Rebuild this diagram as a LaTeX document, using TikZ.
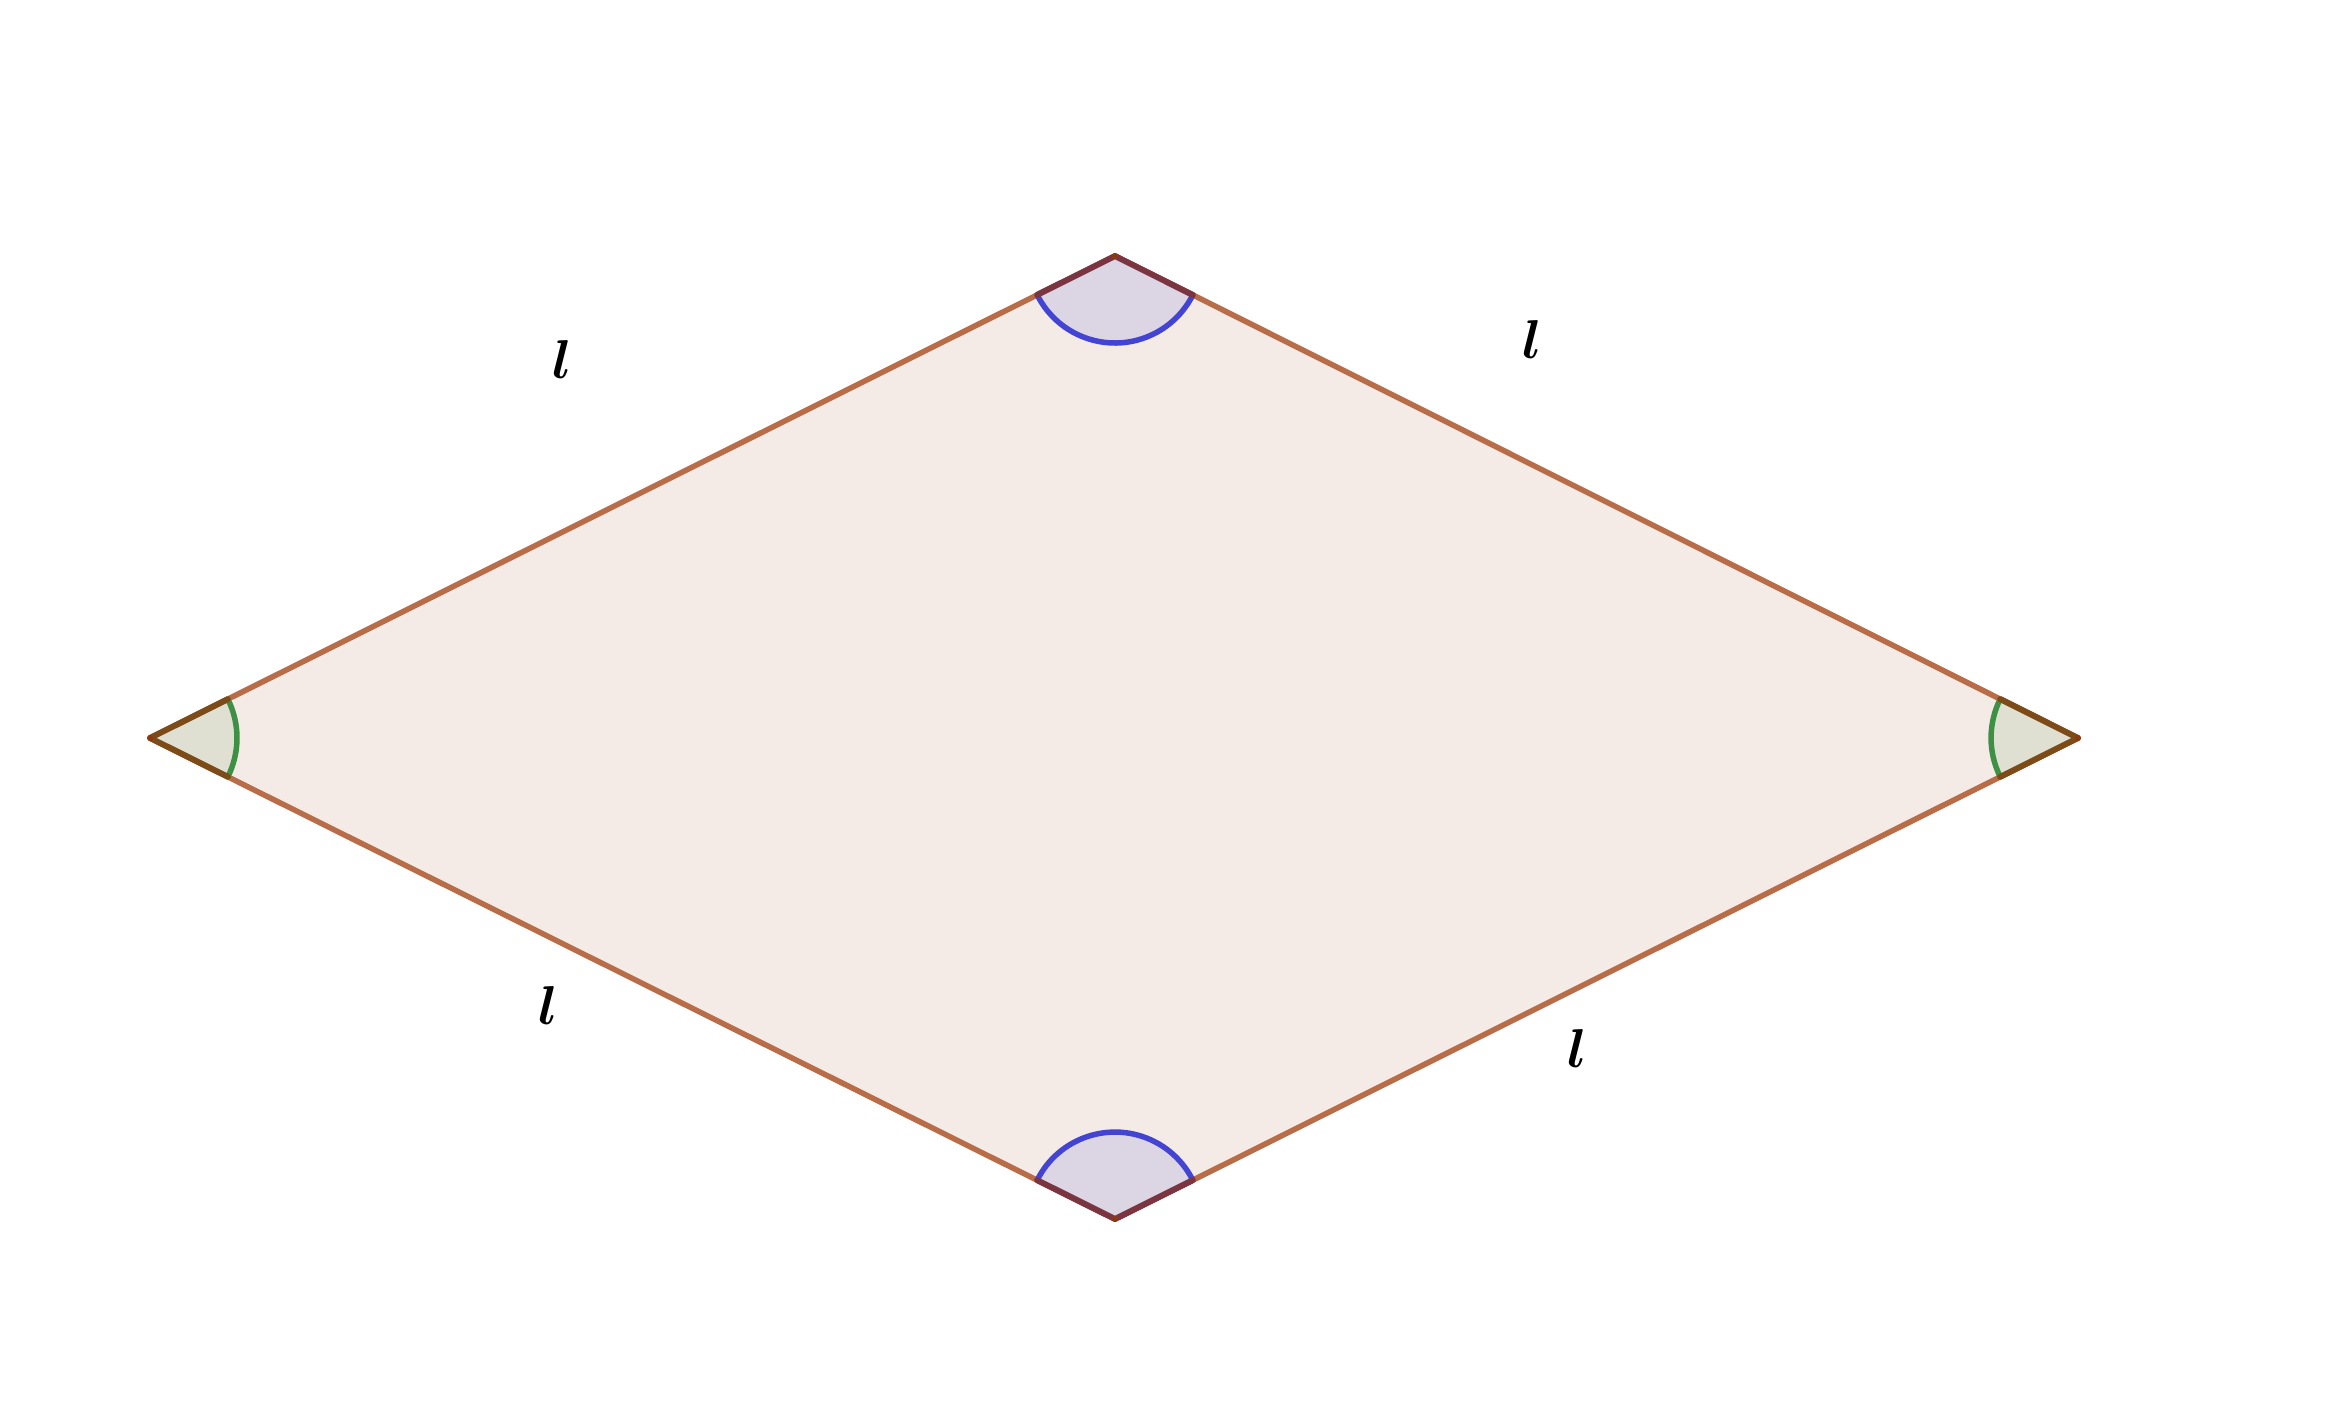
\documentclass[tikz,border=0pt]{standalone}
\usepackage{amsmath,bm}
\usetikzlibrary{calc}
\definecolor{rhfill}{HTML}{F4EBE6}
\definecolor{rhedge}{HTML}{B86C47}
\definecolor{gfill}{HTML}{DFDFD2}
\definecolor{garc}{HTML}{3E9044}
\definecolor{gedge}{HTML}{7C4B17}
\definecolor{bfill}{HTML}{DCD5E4}
\definecolor{barc}{HTML}{4444D4}
\definecolor{bedge}{HTML}{7A3540}
\definecolor{vdot}{HTML}{8B3A10}
\tikzset{
  sidelabel/.style={font=\Huge, scale=2.2, inner sep=0pt},
  rhombusedge/.style={draw=rhedge, line width=5.5pt, line join=round},
  arcline/.style={line width=5.5pt},
  secedge/.style={line width=6pt, line cap=round, line join=round}
}
\begin{document}
\begin{tikzpicture}[x=1pt,y=-1pt]
\useasboundingbox (0,0) rectangle (2340,1410);
\coordinate (L) at (150,738);
\coordinate (T) at (1115,256);
\coordinate (R) at (2078,738);
\coordinate (B) at (1115,1219);
% rhombus
\fill[rhfill] (L)--(T)--(R)--(B)--cycle;
\draw[rhombusedge] (L)--(T)--(R)--(B)--cycle;
% sector points
\coordinate (LT) at ($(L)!87pt!(T)$);
\coordinate (LB) at ($(L)!87pt!(B)$);
\coordinate (RT) at ($(R)!87pt!(T)$);
\coordinate (RB) at ($(R)!87pt!(B)$);
\coordinate (TL) at ($(T)!87pt!(L)$);
\coordinate (TR) at ($(T)!87pt!(R)$);
\coordinate (BL) at ($(B)!87pt!(L)$);
\coordinate (BR) at ($(B)!87pt!(R)$);
% left sector
\fill[gfill] (L) -- (LT) arc[start angle=26.54, end angle=-26.54, radius=87pt] -- cycle;
\draw[garc, arcline] (LT) arc[start angle=26.54, end angle=-26.54, radius=87pt];
\draw[gedge, secedge] (LT) -- (L) -- (LB);
% right sector
\fill[gfill] (R) -- (RT) arc[start angle=153.46, end angle=206.54, radius=87pt] -- cycle;
\draw[garc, arcline] (RT) arc[start angle=153.46, end angle=206.54, radius=87pt];
\draw[gedge, secedge] (RT) -- (R) -- (RB);
% top sector
\fill[bfill] (T) -- (TL) arc[start angle=206.54, end angle=333.46, radius=87pt] -- cycle;
\draw[barc, arcline] (TL) arc[start angle=206.54, end angle=333.46, radius=87pt];
\draw[bedge, secedge] (TL) -- (T) -- (TR);
% bottom sector
\fill[bfill] (B) -- (BL) arc[start angle=153.46, end angle=26.54, radius=87pt] -- cycle;
\draw[barc, arcline] (BL) arc[start angle=153.46, end angle=26.54, radius=87pt];
\draw[bedge, secedge] (BL) -- (B) -- (BR);
% vertex dots
\foreach \v in {L,T,R,B} \fill[vdot] (\v) circle[radius=3pt];
% labels
\node[sidelabel] (l1) at (562,359) {$\boldsymbol{l}$};
\node[sidelabel] (l2) at (1532,339) {$\boldsymbol{l}$};
\node[sidelabel] (l3) at (548,1005) {$\boldsymbol{l}$};
\node[sidelabel] (l4) at (1577,1048) {$\boldsymbol{l}$};
\end{tikzpicture}
\end{document}
